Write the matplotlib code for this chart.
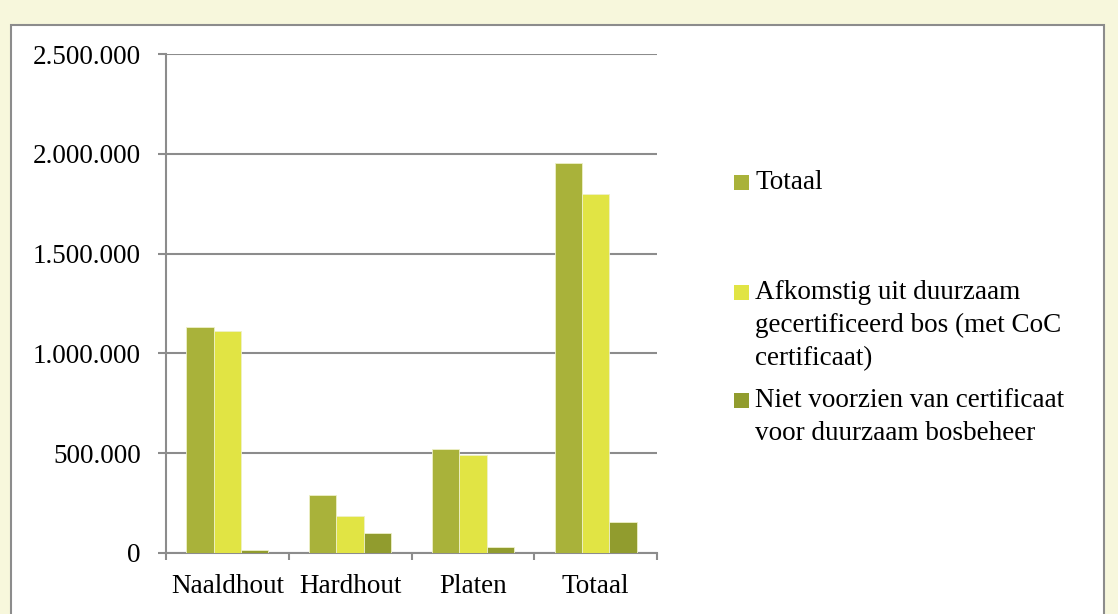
import matplotlib
matplotlib.use("Agg")
import matplotlib.pyplot as plt
from matplotlib.patches import Rectangle
from matplotlib.ticker import FuncFormatter
import numpy as np

# Data
categories = ["Naaldhout", "Hardhout", "Platen", "Totaal"]
series_names = [
    "Totaal",
    "Afkomstig uit duurzaam\ngecertificeerd bos (met CoC\ncertificaat)",
    "Niet voorzien van certificaat\nvoor duurzaam bosbeheer",
]
totaal = [1130000, 292000, 523000, 1955000]
afkomstig = [1110000, 187000, 490000, 1798000]
niet_cert = [15000, 102000, 30000, 155000]
series = [totaal, afkomstig, niet_cert]
colors = ["#A9B23A", "#E1E444", "#919C2E"]

plt.rcParams["font.family"] = ["Liberation Serif"]
FS = 19.5

fig = plt.figure(figsize=(11.18, 6.14), dpi=100)
fig.patch.set_facecolor("#F7F7DC")

# white chart box with gray border
box = Rectangle((11 / 1118, -0.05), (1104 - 11) / 1118, 1 - 25 / 614 + 0.05,
                transform=fig.transFigure, facecolor="white",
                edgecolor="#8C8C8C", linewidth=1.5, zorder=0)
fig.add_artist(box)

ax = fig.add_axes([166 / 1118, 1 - 553 / 614, (657 - 166) / 1118, (553 - 54) / 614])
ax.set_facecolor("none")

x = np.arange(len(categories))
w = 0.222
for i, (vals, c) in enumerate(zip(series, colors)):
    ax.bar(x + (i - 1) * w, vals, width=w, color=c, edgecolor="#EEF0C8",
           linewidth=0.6, zorder=3)

ax.set_xlim(-0.5, len(categories) - 0.5)
ax.set_ylim(0, 2500000)
ax.set_yticks(np.arange(0, 2500001, 500000))
ax.yaxis.set_major_formatter(FuncFormatter(lambda v, p: f"{int(v):,}".replace(",", ".")))
ax.set_xticks(x)
ax.set_xticklabels(categories)
ax.set_xticks(np.arange(-0.5, len(categories), 1), minor=True)
ax.tick_params(axis="x", which="major", length=0, pad=15, labelsize=FS)
ax.tick_params(axis="x", which="minor", length=5, width=1.5, color="#8C8C8C", direction="out")
ax.tick_params(axis="y", length=6, width=1.5, color="#8C8C8C", pad=12, labelsize=FS)

ax.grid(axis="y", color="#8C8C8C", linewidth=1.5, zorder=1)
for s in ["top", "right"]:
    ax.spines[s].set_visible(False)
for s in ["left", "bottom"]:
    ax.spines[s].set_color("#8C8C8C")
    ax.spines[s].set_linewidth(1.5)

# legend placed like the original
legend_y = [182, 292, 400]
for name, c, yy in zip(series_names, colors, legend_y):
    fig.add_artist(Rectangle((734 / 1118, 1 - (yy + 7.5) / 614), 15 / 1118, 15 / 614,
                             transform=fig.transFigure, facecolor=c, edgecolor="none"))
    fig.text(755 / 1118, 1 - (yy - 12) / 614, name, fontsize=FS, va="top", ha="left",
             linespacing=1.42)

fig.savefig("out.png", dpi=100, facecolor=fig.get_facecolor())
